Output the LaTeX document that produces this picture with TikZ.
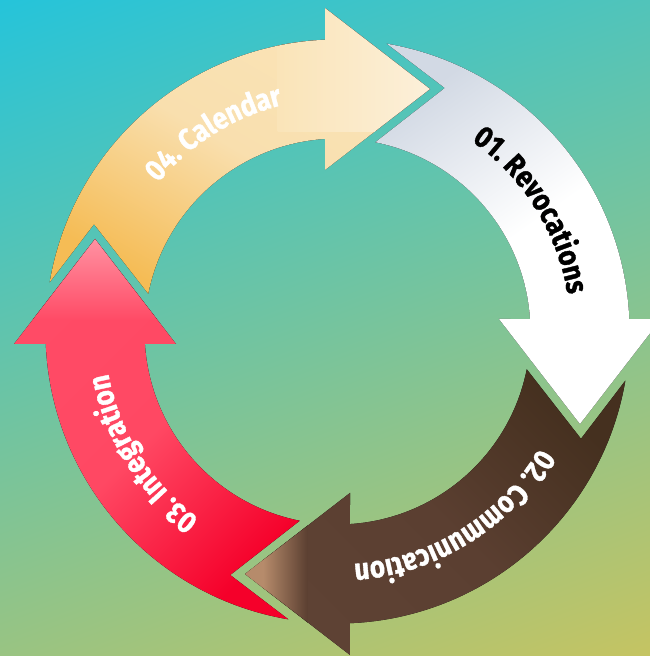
\documentclass[tikz,border=0pt]{standalone}
\usepackage{fontspec}
\usetikzlibrary{decorations.text}
\newfontfamily\arrfont{Fira Sans}[FakeStretch=0.86, BoldFeatures={FakeBold=1.2}]
\newcommand\lbl{\arrfont\bfseries\fontsize{30.5}{30.5}\selectfont}
\pgfdeclarefunctionalshading{bgshade}{\pgfpoint{0bp}{0bp}}{\pgfpoint{650bp}{656bp}}{}{
  2 copy -0.0006934 mul exch 0.0002655 mul add 0.6 add
  3 1 roll
  0.0005261 mul exch -0.0001931 mul add 0.5098 add
  0.768 exch
}
\definecolor{calA}{HTML}{F5BC55}
\definecolor{calB}{HTML}{F9DFAE}
\definecolor{calC}{HTML}{FAE4B8}
\definecolor{calD}{HTML}{FCF0DA}
\definecolor{revA}{HTML}{D2D9E4}
\definecolor{comA}{HTML}{45301F}
\definecolor{comB}{HTML}{5B3F31}
\definecolor{comC}{HTML}{5E4234}
\definecolor{comT}{HTML}{B68B6B}
\definecolor{intA}{HTML}{FF4B66}
\definecolor{intB}{HTML}{FF4863}
\definecolor{intC}{HTML}{F5002A}
\definecolor{intP}{HTML}{FF94A4}
% one arrow of the ring, rotated by #1 degrees about the centre
\newcommand\arrshape[1]{({170.3+#1}:292) arc[start angle={170.3+#1}, end angle={92.45+#1}, radius=292]
  -- ({92.213+#1}:323.74) -- ({69.12+#1}:259.54) -- ({94.426+#1}:161.98)
  -- ({93.71+#1}:193) arc[start angle={93.71+#1}, end angle={168.7+#1}, radius=193]
  -- ({156.22+#1}:266.09) -- cycle}
\newcommand\txtarc[1]{({182+#1}:233) arc[start angle={182+#1}, end angle={62+#1}, radius=233]}
\tikzset{
  ringtext/.style 2 args={decorate, decoration={text along path, text align=center,
      text color=#1, text={|\lbl|#2}}}
}
\begin{document}
\begin{tikzpicture}[x=1bp,y=1bp]
\useasboundingbox (0,0) rectangle (650,656);
\node[inner sep=0pt, outer sep=0pt, anchor=south west] (bg) at (0,0) {\pgfuseshading{bgshade}};
\begin{scope}[shift={(337.5,324.5)}]
  % 04. Calendar (top)
  \fill[shading=axis, bottom color=calA, top color=calC, middle color=calB, shading angle=-30] \arrshape{0};
  \begin{scope}
    \clip \arrshape{0};
    \fill[left color=calC, right color=calD] (-60,200) rectangle (95,330);
  \end{scope}
  % 01. Revocations (right)
  \fill[shading=axis, top color=revA, bottom color=white, middle color=white, shading angle=35] \arrshape{270};
  % 02. Communication (bottom)
  \fill[shading=axis, top color=comA, bottom color=comC, middle color=comB, shading angle=-45] \arrshape{180};
  \begin{scope}
    \clip \arrshape{180};
    \fill[comT] (-100,-335) rectangle (-74,-150);
    \fill[left color=comT, right color=comB] (-74.5,-335) rectangle (-30,-150);
  \end{scope}
  % 03. Integration (left)
  \fill[shading=axis, top color=intA, bottom color=intC, middle color=intB, shading angle=45] \arrshape{90};
  \begin{scope}
    \clip \arrshape{90};
    \fill[top color=intP, bottom color=intA] (-330,12) rectangle (-150,95);
  \end{scope}
  % labels
  \path[ringtext={white}{04. Calendar}] \txtarc{0};
  \path[ringtext={black}{01. Revocations}] \txtarc{270};
  \path[ringtext={white}{02. Communication}] \txtarc{180};
  \path[ringtext={white}{03. Integration}] \txtarc{90};
\end{scope}
\end{tikzpicture}
\end{document}
